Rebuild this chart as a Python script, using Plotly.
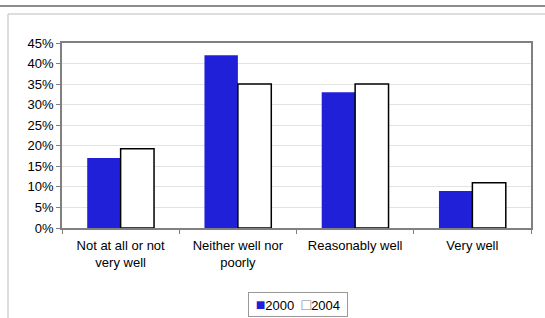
import plotly.graph_objects as go

categories = ["Not at all or not<br>very well", "Neither well nor<br>poorly", "Reasonably well", "Very well"]
values_2000 = [0.17, 0.42, 0.33, 0.09]
values_2004 = [0.193, 0.35, 0.35, 0.11]
series_names = ["2000", "2004"]
blue = "#2020d8"

W, H = 545, 318
L, R, T, B = 62, 14, 43, 90
pw = W - L - R
ph = H - T - B

def px_x(x):
    return (x - L) / pw

def px_y(y):
    return (H - B - y) / ph

fig = go.Figure()
fig.add_trace(go.Bar(x=categories, y=values_2000, name=series_names[0],
                     marker=dict(color=blue, line=dict(width=0))))
fig.add_trace(go.Bar(x=categories, y=values_2004, name=series_names[1],
                     marker=dict(color="white", line=dict(color="black", width=1.5))))

legend_text = (f"&nbsp;<span style='color:{blue};font-size:16px'>■</span>{series_names[0]}"
               f"&nbsp;&nbsp;<span style='color:#808080;font-size:16px'>□</span>{series_names[1]}&nbsp;")

fig.update_layout(
    width=W, height=H,
    margin=dict(l=L, r=R, t=T, b=B, autoexpand=False),
    paper_bgcolor="white", plot_bgcolor="white",
    barmode="group", bargap=0.43, bargroupgap=0,
    showlegend=False,
    font=dict(family="Liberation Sans, Arial, sans-serif", size=13, color="black"),
    annotations=[
        dict(text=legend_text, xref="paper", yref="paper", x=px_x(298), y=px_y(304),
             xanchor="center", yanchor="middle", showarrow=False,
             font=dict(size=13, color="black"), bgcolor="white",
             bordercolor="#999999", borderwidth=1, borderpad=3),
    ],
    shapes=[
        dict(type="line", xref="paper", yref="paper",
             x0=px_x(0), x1=px_x(W), y0=px_y(6), y1=px_y(6),
             line=dict(color="#8c8c8c", width=2)),
        dict(type="rect", xref="paper", yref="paper",
             x0=px_x(8), x1=px_x(W + 5), y0=px_y(14), y1=px_y(H + 5),
             line=dict(color="#bbbbbb", width=1), layer="below"),
    ],
)
fig.update_xaxes(showgrid=False, tickson="boundaries", ticks="outside", ticklen=4,
                 tickcolor="#808080", showline=True, linecolor="#808080", linewidth=1.5,
                 mirror=True, tickfont=dict(size=13), automargin=False,
                 ticklabelstandoff=5)
fig.update_yaxes(range=[0, 0.45], dtick=0.05, tickformat=".0%", showgrid=True,
                 gridcolor="#e3e3e3", ticks="outside", ticklen=4, tickcolor="#808080",
                 showline=True, linecolor="#808080", linewidth=1.5, mirror=True,
                 zeroline=False, tickfont=dict(size=13), automargin=False)

fig.write_html("out.html", config={"displayModeBar": False},
               post_script="document.body.style.margin='0';document.body.style.overflow='hidden';")
